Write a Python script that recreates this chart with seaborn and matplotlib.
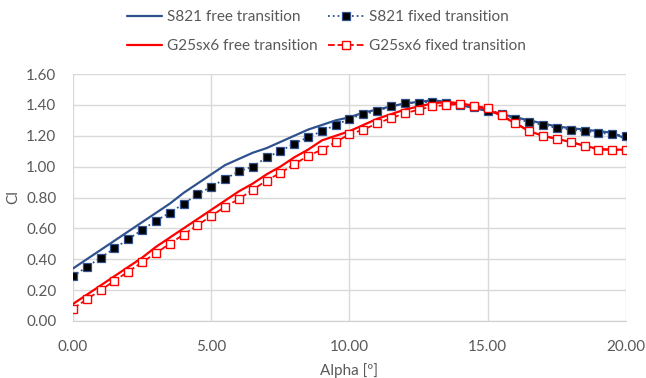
import numpy as np
import matplotlib
matplotlib.use("Agg")
import matplotlib.pyplot as plt
import seaborn as sns

# angle of attack, 0.5 deg steps
alpha = [0.0, 0.5, 1.0, 1.5, 2.0, 2.5, 3.0, 3.5, 4.0, 4.5, 5.0, 5.5, 6.0, 6.5, 7.0,
         7.5, 8.0, 8.5, 9.0, 9.5, 10.0, 10.5, 11.0, 11.5, 12.0, 12.5, 13.0, 13.5,
         14.0, 14.5, 15.0, 15.5, 16.0, 16.5, 17.0, 17.5, 18.0, 18.5, 19.0, 19.5, 20.0]
# free transition runs have one extra point at 20 deg
alpha_free = alpha + [20.0]

s821_free = [0.34, 0.40, 0.46, 0.52, 0.58, 0.64, 0.70, 0.76, 0.83, 0.89, 0.95,
             1.01, 1.05, 1.09, 1.12, 1.16, 1.20, 1.24, 1.27, 1.30, 1.32, 1.35,
             1.37, 1.39, 1.41, 1.42, 1.43, 1.42, 1.40, 1.38, 1.36, 1.34, 1.32,
             1.30, 1.28, 1.26, 1.25, 1.24, 1.23, 1.22, 1.21, 1.15]
s821_fixed = [0.29, 0.35, 0.41, 0.47, 0.53, 0.59, 0.65, 0.70, 0.76, 0.82, 0.87,
              0.92, 0.97, 1.00, 1.06, 1.10, 1.15, 1.19, 1.23, 1.27, 1.31, 1.34,
              1.36, 1.39, 1.41, 1.415, 1.42, 1.41, 1.40, 1.385, 1.36, 1.34, 1.31,
              1.29, 1.27, 1.25, 1.24, 1.23, 1.22, 1.21, 1.20]
g25_free = [0.11, 0.17, 0.23, 0.29, 0.35, 0.41, 0.48, 0.54, 0.60, 0.66, 0.72,
            0.78, 0.84, 0.89, 0.95, 1.00, 1.06, 1.11, 1.17, 1.20, 1.23, 1.27,
            1.31, 1.34, 1.37, 1.39, 1.41, 1.42, 1.41, 1.395, 1.37, 1.33, 1.28,
            1.23, 1.20, 1.18, 1.16, 1.135, 1.115, 1.11, 1.11, 1.11]
g25_fixed = [0.08, 0.14, 0.20, 0.26, 0.32, 0.38, 0.44, 0.50, 0.56, 0.62, 0.68,
             0.74, 0.79, 0.85, 0.91, 0.96, 1.015, 1.07, 1.11, 1.16, 1.21, 1.24,
             1.28, 1.315, 1.345, 1.37, 1.39, 1.40, 1.405, 1.395, 1.38, 1.335,
             1.285, 1.23, 1.20, 1.18, 1.16, 1.135, 1.11, 1.11, 1.11]

blue = "#2F528F"
red = "#FF0000"
txt = "#595959"

sns.set_style("whitegrid", {"grid.color": "#D9D9D9"})
plt.rcParams['font.family'] = ['Lato', 'DejaVu Sans']

fig = plt.figure(figsize=(6.46, 3.78), dpi=100)
ax = fig.add_axes([0.113, 0.151, 0.856, 0.653])

sns.lineplot(x=alpha_free, y=s821_free, color=blue, lw=1.6, sort=False,
             label="S821 free transition", ax=ax)
sns.lineplot(x=alpha, y=s821_fixed, color=blue, lw=1.3, linestyle=":",
             marker="s", markersize=5.5, markerfacecolor="black",
             markeredgecolor=blue, markeredgewidth=0.9, sort=False,
             label="S821 fixed transition", ax=ax)
sns.lineplot(x=alpha_free, y=g25_free, color=red, lw=1.6, sort=False,
             label="G25sx6 free transition", ax=ax)
sns.lineplot(x=alpha, y=g25_fixed, color=red, lw=1.3, linestyle="--",
             marker="s", markersize=5.5, markerfacecolor="white",
             markeredgecolor=red, markeredgewidth=1.0, sort=False,
             label="G25sx6 fixed transition", ax=ax)

ax.set_xlim(0, 20)
ax.set_ylim(0, 1.6)
ax.set_xticks(np.arange(0, 20.1, 5))
ax.set_yticks(np.arange(0, 1.61, 0.2))
ax.set_xticklabels([f"{v:.2f}" for v in np.arange(0, 20.1, 5)])
ax.set_yticklabels([f"{v:.2f}" for v in np.arange(0, 1.61, 0.2)])
ax.tick_params(labelsize=11, colors=txt, length=0)
ax.tick_params(axis="x", pad=14)
ax.tick_params(axis="y", pad=12)
for s in ["top", "right", "left"]:
    ax.spines[s].set_visible(False)
ax.spines["bottom"].set_color("#D0D0D0")
ax.grid(True, lw=1)
ax.set_xlabel("Alpha [º]", fontsize=11, color=txt, labelpad=6)
ax.set_ylabel("Cl", fontsize=11, color=txt, labelpad=4)

handles, labels = ax.get_legend_handles_labels()
ax.get_legend().remove()
order = [0, 2, 1, 3]
fig.legend([handles[i] for i in order], [labels[i] for i in order], ncol=2,
           loc="upper center", bbox_to_anchor=(0.505, 1.009), frameon=False,
           fontsize=11, handlelength=2.3, handletextpad=0.35,
           columnspacing=0.7, labelspacing=0.95, labelcolor=txt)

fig.savefig("out.png", dpi=100, facecolor="white")
